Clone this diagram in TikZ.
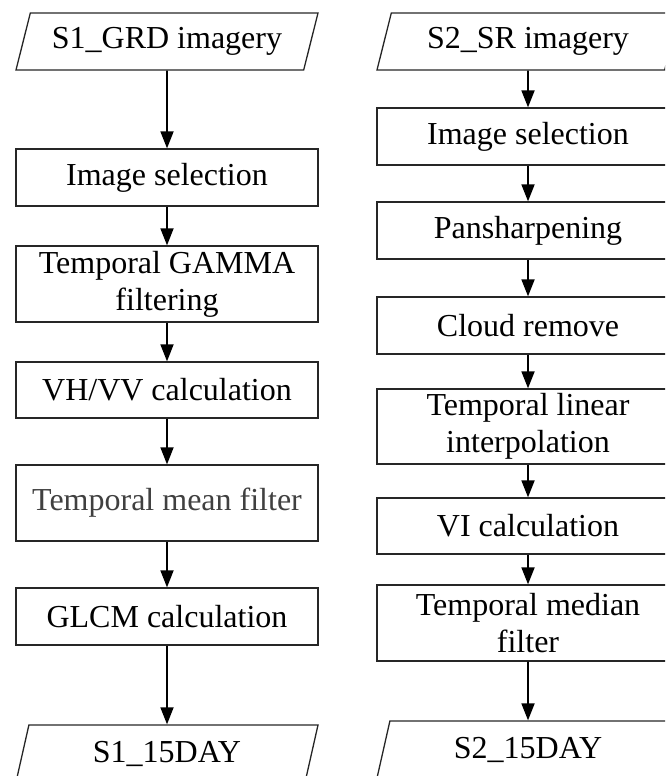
\documentclass[tikz,border=0pt]{standalone}
\usepackage{fontspec}
\setmainfont{Liberation Serif}
\usetikzlibrary{shapes.geometric,arrows.meta}

\tikzset{
  stepbox/.style={draw=black!85, line width=1.3pt, minimum width=302pt,
    minimum height=57pt, align=center, inner sep=0pt,
    font=\fontsize{32}{37}\selectfont},
  tallbox/.style={stepbox, minimum height=76pt},
  iobox/.style={stepbox, trapezium, trapezium left angle=63,
    trapezium right angle=117, trapezium stretches body=true},
  flow/.style={-{Triangle[width=13pt,length=17pt]}, line width=1.8pt}
}

\begin{document}
\begin{tikzpicture}[x=1pt, y=-1pt]

  \path[use as bounding box, clip] (0,0) rectangle (665,776);

  % S1 (left column)
  \node[iobox] (s1in) at (167,41.5) {S1\_GRD imagery};
  \node[stepbox] (sel1) at (167,177.5) {Image selection};
  \node[tallbox] (gamma) at (167,284) {Temporal GAMMA\\filtering};
  \node[stepbox, minimum height=56pt] (ratio) at (167,390) {VH/VV calculation};
  \node[tallbox, text=black!75] (mean) at (167,503) {Temporal mean filter};
  \node[stepbox] (glcm) at (167,616.5) {GLCM calculation};
  \node[iobox] (s1out) at (167,753.5) {S1\_15DAY};

  \draw[flow] (s1in) -- (sel1);
  \draw[flow] (sel1) -- (gamma);
  \draw[flow] (gamma) -- (ratio);
  \draw[flow] (ratio) -- (mean);
  \draw[flow] (mean) -- (glcm);
  \draw[flow] (glcm) -- (s1out);

  % S2 (right column)
  \node[iobox] (s2in) at (528,41.5) {S2\_SR imagery};
  \node[stepbox] (sel2) at (528,136.5) {Image selection};
  \node[stepbox] (pan) at (528,230.5) {Pansharpening};
  \node[stepbox] (cloud) at (528,325.5) {Cloud remove};
  \node[tallbox, minimum height=75pt] (interp) at (528,426.5) {Temporal linear\\interpolation};
  \node[stepbox, minimum height=56pt] (vi) at (528,526) {VI calculation};
  \node[tallbox] (median) at (528,623) {Temporal median\\filter};
  \node[iobox] (s2out) at (528,749.5) {S2\_15DAY};

  \draw[flow] (s2in) -- (sel2);
  \draw[flow] (sel2) -- (pan);
  \draw[flow] (pan) -- (cloud);
  \draw[flow] (cloud) -- (interp);
  \draw[flow] (interp) -- (vi);
  \draw[flow] (vi) -- (median);
  \draw[flow] (median) -- (s2out);

\end{tikzpicture}
\end{document}
